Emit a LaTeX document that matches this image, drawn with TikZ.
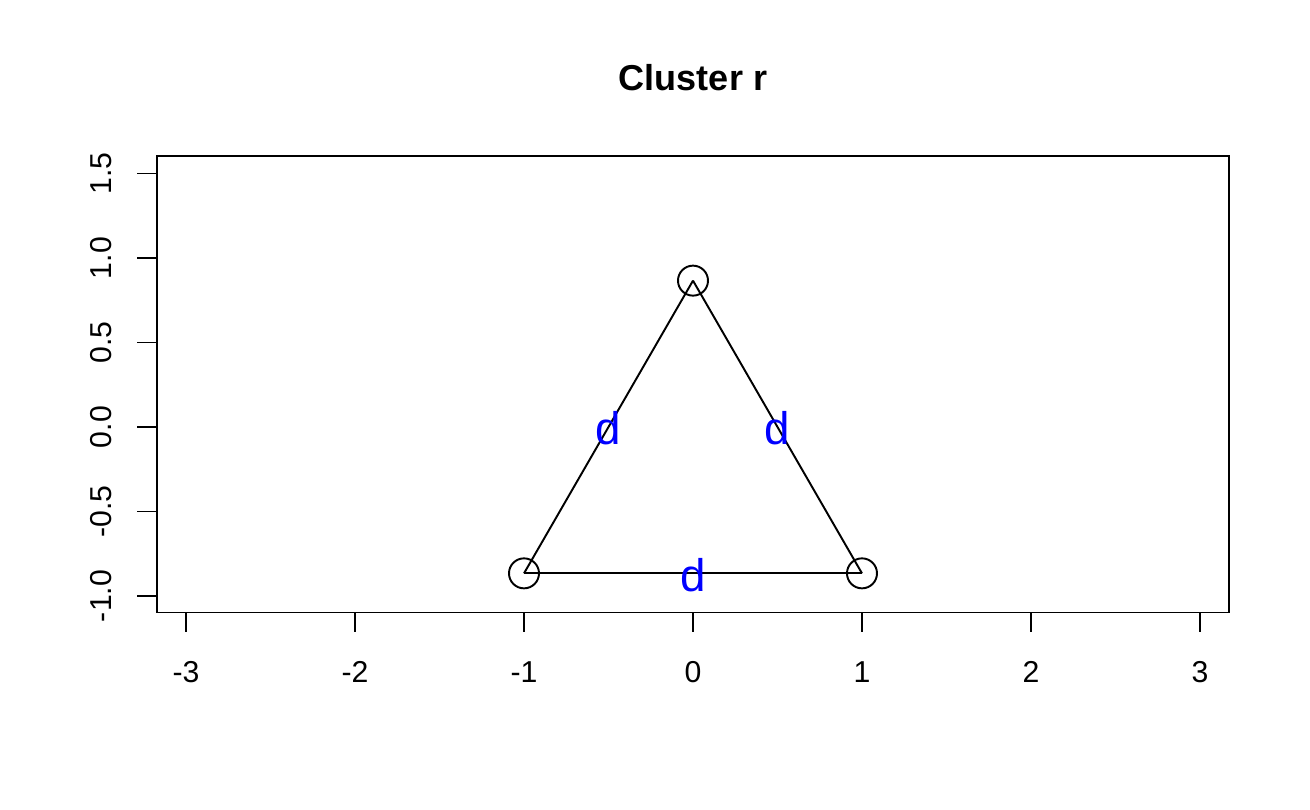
\documentclass[tikz,border=0pt]{standalone}
\usepackage{fontspec}
\setmainfont{Liberation Sans}
\usetikzlibrary{arrows}

\begin{document}
\begin{tikzpicture}[x=3.38cm,y=3.38cm,line width=1.1pt]
  \tikzstyle{every node}=[font=\fontsize{17.2}{20}\selectfont]
  \tikzstyle{vertex}=[circle,draw,minimum size=0.6cm,inner sep=0pt]
  \tikzstyle{dlabel}=[text=blue,font=\fontsize{26}{30}\selectfont,anchor=base,yshift=-0.36cm]
\useasboundingbox (-4.1006,-2.2604) rectangle (3.6509,2.5266);
\node [font=\bfseries\fontsize{20.5}{24}\selectfont,anchor=base] (title) at (0,1.994) {Cluster r};
\draw (-3.1716,-1.0976) rectangle (3.1716,1.6036);
\foreach \x in {-3,...,3} {
  \draw (\x,-1.0976) -- (\x,-1.2159);
  \node [anchor=base] (x\x) at (\x,-1.509) {\x};
}
\foreach \y/\t in {-1/-1.0,-0.5/-0.5,0/0.0,0.5/0.5,1/1.0,1.5/1.5} {
  \draw (-3.1716,\y) -- (-3.2899,\y);
  \node [anchor=base,rotate=90] at (-3.4396,\y) {\t};
}
\node [vertex] (top) at (0,0.866) {};
\node [vertex] (left) at (-1,-0.866) {};
\node [vertex] (right) at (1,-0.866) {};

\path (top.center) edge node [dlabel] {d} (left.center)
      (top.center) edge node [dlabel] {d} (right.center)
      (left.center) edge node [dlabel] {d} (right.center);
\end{tikzpicture}
\end{document}
